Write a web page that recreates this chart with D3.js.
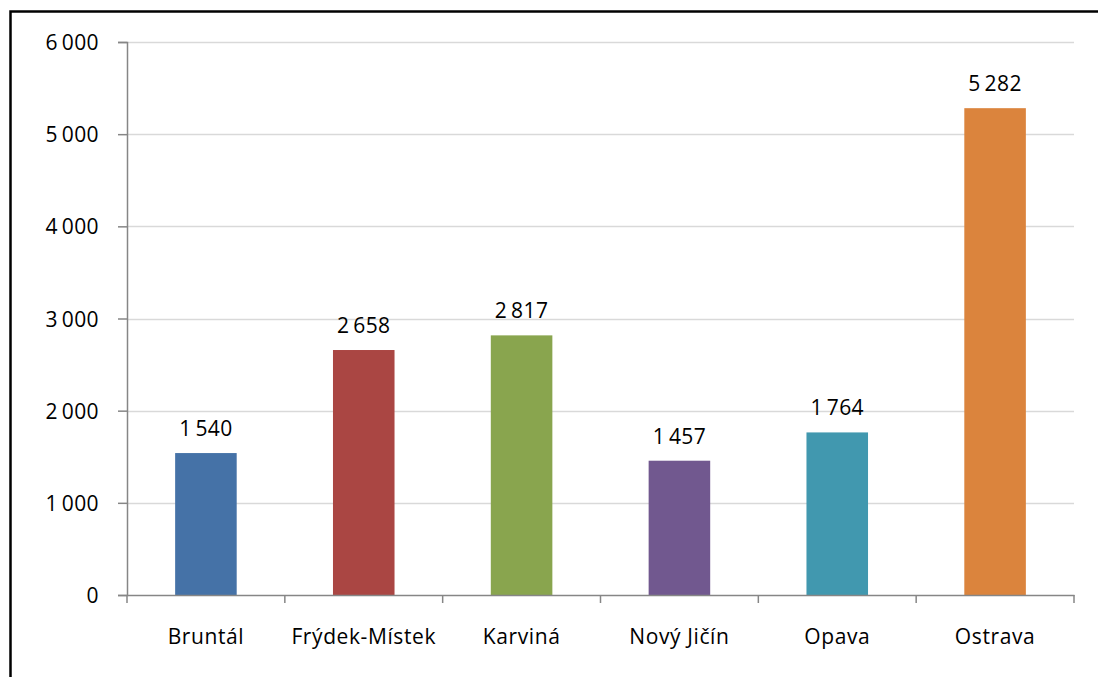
<!DOCTYPE html>
<html>
<head>
<meta charset="utf-8">
<script src="https://cdn.jsdelivr.net/npm/d3@7"></script>
<style>
  html, body { margin: 0; background: #fff; overflow: hidden; }
  svg { display: block; }
  text { font-family: "Open Sans", sans-serif; fill: #000; }
</style>
</head>
<body>
<div id="chart"></div>
<script>
var districts = ["Bruntál", "Frýdek-Místek", "Karviná", "Nový Jičín", "Opava", "Ostrava"];
var values = [1540, 2658, 2817, 1457, 1764, 5282];
var barColors = ["#4572A7", "#AA4643", "#89A54E", "#71588F", "#4198AF", "#DB843D"];
var yTicks = [0, 1000, 2000, 3000, 4000, 5000, 6000];

var svgWidth = 1098;
var svgHeight = 677;

var margin = { top: 42, right: 24, bottom: 82, left: 127 };

var svg = d3.select("#chart")
  .append("svg")
  .attr("width", svgWidth)
  .attr("height", svgHeight);

// outer frame
svg.append("rect")
  .attr("x", 10.5).attr("y", 11.5)
  .attr("width", 1100).attr("height", 700)
  .attr("fill", "none")
  .attr("stroke", "#000")
  .attr("stroke-width", 2.5);

var width = svgWidth - margin.left - margin.right;
var height = svgHeight - margin.top - margin.bottom;

var chart = svg.append("g")
  .attr("transform", `translate(${margin.left}, ${margin.top})`);

var fmt = d => d3.format(",")(d).replace(/,/g, "\u2009");

var x = d3.scaleBand()
  .domain(districts)
  .range([0, width]);

var y = d3.scaleLinear()
  .domain([0, 6000])
  .range([height, 0]);

// gridlines
chart.selectAll(".grid")
  .data(yTicks.slice(1))
  .enter().append("line")
  .attr("x1", 0).attr("x2", width)
  .attr("y1", d => Math.round(y(d)) + 0.5)
  .attr("y2", d => Math.round(y(d)) + 0.5)
  .attr("stroke", "#d9d9d9")
  .attr("stroke-width", 1.5);

// bars
var barW = x.bandwidth() * 0.39;
chart.selectAll(".bar")
  .data(values)
  .enter().append("rect")
  .attr("x", (d, i) => x(districts[i]) + (x.bandwidth() - barW) / 2)
  .attr("y", d => y(d))
  .attr("width", barW)
  .attr("height", d => height - y(d))
  .attr("fill", (d, i) => barColors[i]);

// value labels
chart.selectAll(".val")
  .data(values)
  .enter().append("text")
  .attr("x", (d, i) => x(districts[i]) + x.bandwidth() / 2)
  .attr("y", d => y(d) - 17)
  .attr("text-anchor", "middle")
  .attr("font-size", "21px")
  .style("letter-spacing", "0.4px")
  .text(d => fmt(d));

// y axis
var yAxis = chart.append("g")
  .call(d3.axisLeft(y).tickValues(yTicks).tickSize(9).tickPadding(19).tickFormat(fmt));
yAxis.selectAll("text")
  .attr("font-size", "21px")
  .attr("dy", "0.36em")
  .style("letter-spacing", "0.4px")
  .style("font-family", "Open Sans, sans-serif");

// x axis
var xAxis = chart.append("g")
  .attr("transform", `translate(0, ${height})`)
  .call(d3.axisBottom(x).tickSize(0).tickPadding(37));
xAxis.selectAll("text")
  .attr("font-size", "21px")
  .attr("dy", "0.55em")
  .style("letter-spacing", "0.6px")
  .style("font-family", "Open Sans, sans-serif");
xAxis.selectAll(".tick line").remove();

// category boundary ticks
chart.selectAll(".xtick")
  .data(d3.range(districts.length + 1))
  .enter().append("line")
  .attr("x1", i => i * x.step()).attr("x2", i => i * x.step())
  .attr("y1", height).attr("y2", height + 8)
  .attr("stroke", "#868686")
  .attr("stroke-width", 1.5);

svg.selectAll(".domain, .tick line")
  .attr("stroke", "#868686")
  .attr("stroke-width", 1.5);
</script>
</body>
</html>
